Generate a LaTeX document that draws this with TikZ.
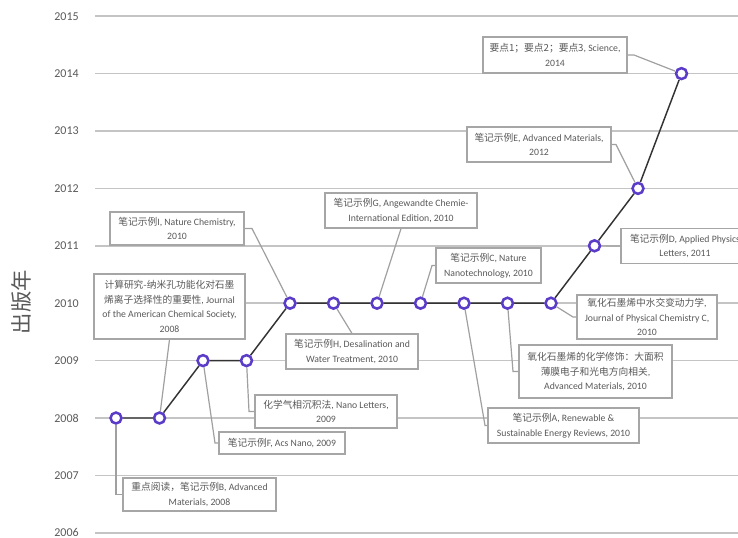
\documentclass[tikz,border=0pt]{standalone}
\usepackage{fontspec}
\setmainfont{Carlito}
\newfontfamily\zhfont{Noto Sans CJK SC}
\newcommand{\zh}[1]{{\zhfont #1}}
\usetikzlibrary{backgrounds}
\definecolor{gridgray}{HTML}{C4C4C4}
\definecolor{txtgray}{HTML}{595959}
\definecolor{boxgray}{HTML}{A6A6A6}
\definecolor{leadgray}{HTML}{A0A0A0}
\definecolor{trendgray}{HTML}{333333}
\definecolor{ptpurple}{HTML}{5A3CC8}
\begin{document}
\begin{tikzpicture}[x=0.75pt,y=-0.75pt,
  gridln/.style={draw=gridgray,line width=1.1pt},
  yearlbl/.style={anchor=east,text=txtgray,font=\fontsize{9}{10}\selectfont,inner sep=0pt},
  ptmark/.style={circle,draw=ptpurple,fill=white,line width=1.9pt,minimum size=8.2pt,inner sep=0pt},
  trend/.style={draw=trendgray,line width=1.1pt},
  lead/.style={draw=leadgray,line width=0.9pt},
  notebox/.style 2 args={draw=boxgray,fill=white,line width=0.9pt,text=txtgray,
    align=center,font=\fontsize{7.3}{11}\selectfont,inner sep=1pt,
    minimum width=#1*0.75pt,minimum height=#2*0.75pt}
]
\useasboundingbox (0,0) rectangle (738,537);
\clip (0,0) rectangle (738,537);

% axis title
\node[rotate=90,text=txtgray,font=\fontsize{16}{16}\selectfont] (ytitle) at (21,302) {\zh{出版年}};

% year labels
\foreach \yr in {2006,...,2015}{
  \pgfmathsetmacro{\yy}{418-(\yr-2008)*57.4}
  \node[yearlbl] (yl\yr) at (79,\yy) {\yr};
}

% data points
\foreach \n/\px/\py in {1/116/418, 2/159.5/418, 3/203/360.6, 4/246.5/360.6,
  5/290/303.2, 6/333.5/303.2, 7/377/303.2, 8/420.5/303.2, 9/464/303.2,
  10/507.5/303.2, 11/551/303.2, 12/594.5/245.8, 13/638/188.4, 14/681.5/73.6}{
  \node[ptmark] (p\n) at (\px,\py) {};
}

% note boxes
\node[notebox={153}{33}] (bB) at (199.5,494.5) {\zh{重点阅读，笔记示例}B, Advanced\\Materials, 2008};
\node[notebox={151}{65}] (bJ) at (169.5,306.5) {\zh{计算研究-纳米孔功能化对石墨}\\\zh{烯离子选择性的重要性}, Journal\\of the American Chemical Society,\\2008};
\node[notebox={126}{22}] (bF) at (282,443) {\zh{笔记示例}F, Acs Nano, 2009};
\node[notebox={142}{33}] (bN) at (326,411.5) {\zh{化学气相沉积法}, Nano Letters,\\2009};
\node[notebox={134}{33}] (bI) at (177,228.5) {\zh{笔记示例}I, Nature Chemistry,\\2010};
\node[notebox={132}{35}] (bH) at (352,351.5) {\zh{笔记示例}H, Desalination and\\Water Treatment, 2010};
\node[notebox={152}{35}] (bG) at (401,210.5) {\zh{笔记示例}G, Angewandte Chemie-\\International Edition, 2010};
\node[notebox={105}{35}] (bC) at (488.5,265.5) {\zh{笔记示例}C, Nature\\Nanotechnology, 2010};
\node[notebox={151}{35}] (bA) at (563.5,425.5) {\zh{笔记示例}A, Renewable \&\\Sustainable Energy Reviews, 2010};
\node[notebox={153}{53}] (bO) at (595.5,371.5) {\zh{氧化石墨烯的化学修饰：大面积}\\\zh{薄膜电子和光电方向相关},\\Advanced Materials, 2010};
\node[notebox={140}{44}] (bW) at (647,317) {\zh{氧化石墨烯中水交变动力学},\\Journal of Physical Chemistry C,\\2010};
\node[notebox={128}{35}] (bD) at (685,246) {\zh{笔记示例}D, Applied Physics\\Letters, 2011};
\node[notebox={144}{35}] (bE) at (539,144.5) {\zh{笔记示例}E, Advanced Materials,\\2012};
\node[notebox={144}{36}] (bS) at (555,55) {\zh{要点1；要点2；要点3}, Science,\\2014};

% bends of the leader lines
\coordinate (kF) at (215,443);
\coordinate (kN) at (249,411.5);
\coordinate (kI) at (252,228.5);
\coordinate (kC) at (432,265.5);
\coordinate (kA) at (485,425.5);
\coordinate (kO) at (513,371.5);
\coordinate (kW) at (573,317);
\coordinate (kE) at (616,144.5);
\coordinate (kS) at (634,55);

\begin{scope}[on background layer]
  \foreach \yr in {2006,...,2015}{
    \pgfmathsetmacro{\yy}{418-(\yr-2008)*57.4}
    \draw[gridln] (95,\yy) -- (738,\yy);
  }
  % leader lines
  \draw[lead] (p1) |- (bB.west);
  \draw[lead] (p2) -- (bJ.south);
  \draw[lead] (p3) -- (kF) -- (bF.west);
  \draw[lead] (p4) -- (kN) -- (bN.west);
  \draw[lead] (bI.east) -- (kI) -- (p5);
  \draw[lead] (p6) -- (bH.north);
  \draw[lead] (bG.south) -- (p7);
  \draw[lead] (p8) -- (kC) -- (bC.west);
  \draw[lead] (p9) -- (kA) -- (bA.west);
  \draw[lead] (p10) -- (kO) -- (bO.west);
  \draw[lead] (p11) -- (kW) -- (bW.west);
  \draw[lead] (p12) -- (bD.west);
  \draw[lead] (bE.east) -- (kE) -- (p13);
  \draw[lead] (bS.east) -- (kS) -- (p14);
  % publication trend
  \draw[trend] (p1) -- (p2) -- (p3) -- (p4) -- (p5) -- (p6) -- (p7) -- (p8)
    -- (p9) -- (p10) -- (p11) -- (p12) -- (p13) -- (p14);
\end{scope}
\end{tikzpicture}
\end{document}
